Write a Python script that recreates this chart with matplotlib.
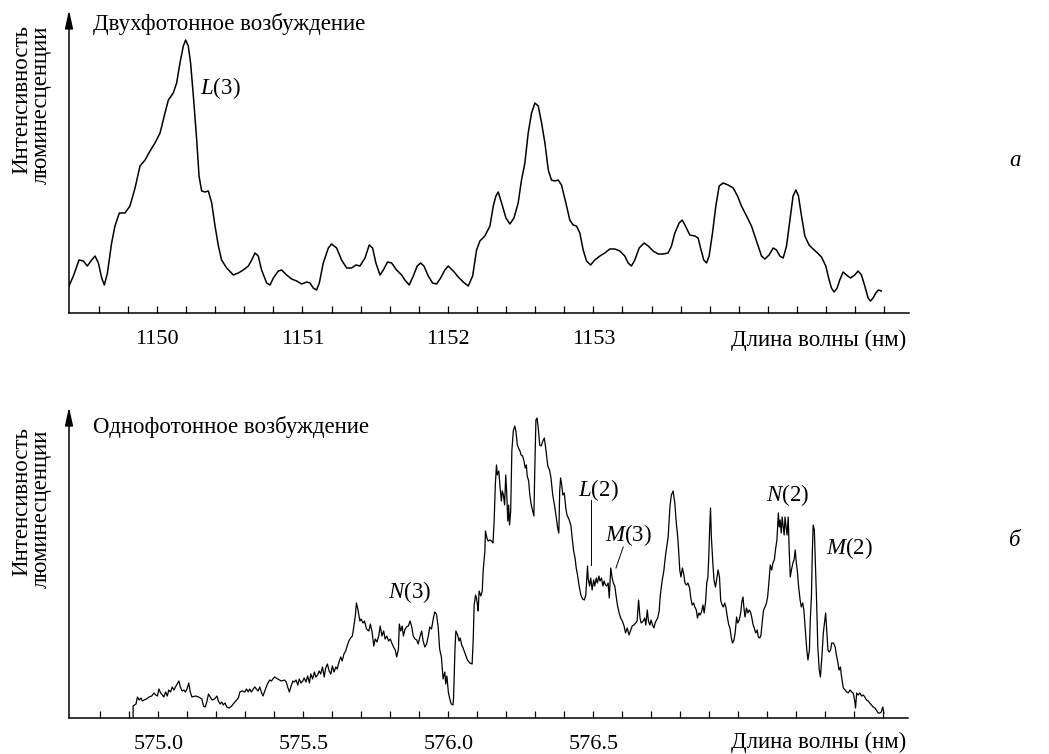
import matplotlib
matplotlib.use('Agg')
import matplotlib.pyplot as plt
import numpy as np

plt.rcParams['font.family'] = ['Liberation Serif', 'DejaVu Serif']
plt.rcParams['mathtext.fontset'] = 'custom'
plt.rcParams['mathtext.rm'] = 'Liberation Serif'
plt.rcParams['mathtext.it'] = 'Liberation Serif:italic'

# --- two-photon excitation spectrum (wavelength, nm / intensity, a.u.)
top_wl = [1149.395, 1149.425, 1149.464, 1149.494, 1149.521, 1149.551, 1149.574, 1149.597, 1149.620, 1149.638,
          1149.659, 1149.688, 1149.711, 1149.741, 1149.780, 1149.814, 1149.849, 1149.883, 1149.918, 1149.952,
          1149.986, 1150.021, 1150.055, 1150.078, 1150.112, 1150.135, 1150.158, 1150.181, 1150.197, 1150.215,
          1150.231, 1150.250, 1150.273, 1150.289, 1150.307, 1150.330, 1150.353, 1150.376, 1150.399, 1150.422,
          1150.444, 1150.479, 1150.525, 1150.559, 1150.593, 1150.628, 1150.651, 1150.674, 1150.696, 1150.719,
          1150.754, 1150.777, 1150.800, 1150.834, 1150.857, 1150.891, 1150.926, 1150.960, 1150.994, 1151.029,
          1151.052, 1151.074, 1151.097, 1151.116, 1151.143, 1151.178, 1151.200, 1151.235, 1151.269, 1151.304,
          1151.338, 1151.368, 1151.395, 1151.430, 1151.459, 1151.482, 1151.505, 1151.533, 1151.556, 1151.585,
          1151.613, 1151.647, 1151.682, 1151.704, 1151.734, 1151.762, 1151.789, 1151.812, 1151.835, 1151.865,
          1151.895, 1151.922, 1151.950, 1151.979, 1152.002, 1152.037, 1152.071, 1152.105, 1152.140, 1152.170,
          1152.197, 1152.220, 1152.254, 1152.289, 1152.312, 1152.330, 1152.346, 1152.369, 1152.399, 1152.426,
          1152.454, 1152.483, 1152.506, 1152.529, 1152.552, 1152.575, 1152.598, 1152.621, 1152.644, 1152.667,
          1152.690, 1152.712, 1152.735, 1152.758, 1152.781, 1152.811, 1152.838, 1152.861, 1152.884, 1152.907,
          1152.930, 1152.953, 1152.981, 1153.010, 1153.045, 1153.079, 1153.113, 1153.148, 1153.182, 1153.216,
          1153.239, 1153.262, 1153.285, 1153.315, 1153.349, 1153.377, 1153.411, 1153.446, 1153.480, 1153.514,
          1153.537, 1153.560, 1153.590, 1153.611, 1153.633, 1153.663, 1153.698, 1153.720, 1153.737, 1153.759,
          1153.778, 1153.796, 1153.819, 1153.842, 1153.865, 1153.892, 1153.927, 1153.961, 1153.991, 1154.018,
          1154.053, 1154.087, 1154.110, 1154.133, 1154.156, 1154.179, 1154.208, 1154.236, 1154.259, 1154.282,
          1154.305, 1154.328, 1154.351, 1154.373, 1154.392, 1154.410, 1154.431, 1154.454, 1154.483, 1154.511,
          1154.541, 1154.568, 1154.598, 1154.621, 1154.637, 1154.655, 1154.676, 1154.694, 1154.717, 1154.740,
          1154.768, 1154.797, 1154.820, 1154.843, 1154.866, 1154.889, 1154.905, 1154.923, 1154.942, 1154.960, 1154.980]
top_int = [27, 37, 53, 52, 47, 53, 57, 50, 35, 28,
           40, 70, 87, 100, 100, 107, 125, 147, 153, 162,
           170, 180, 200, 213, 220, 230, 250, 267, 273, 267,
           250, 217, 173, 137, 122, 121, 122, 110, 87, 67,
           53, 45, 38, 40, 43, 47, 53, 60, 57, 43,
           30, 28, 35, 42, 43, 38, 34, 32, 29, 31,
           30, 25, 23, 30, 50, 65, 69, 65, 53, 45,
           45, 48, 47, 55, 68, 65, 50, 38, 43, 51,
           50, 43, 38, 33, 28, 37, 47, 50, 47, 37,
           30, 29, 35, 43, 47, 42, 36, 31, 27, 37,
           63, 72, 77, 87, 107, 117, 121, 110, 95, 89,
           95, 110, 133, 150, 180, 200, 210, 207, 190, 170,
           143, 133, 132, 133, 128, 110, 93, 88, 87, 80,
           63, 52, 48, 53, 57, 60, 64, 64, 62, 57,
           50, 47, 53, 65, 70, 67, 62, 59, 59, 60,
           67, 80, 90, 93, 87, 78, 77, 75, 65, 53,
           50, 57, 80, 107, 127, 130, 128, 125, 117, 107,
           97, 87, 77, 67, 57, 54, 58, 65, 63, 57,
           55, 67, 93, 117, 123, 117, 97, 77, 68, 64,
           60, 56, 47, 33, 25, 21, 25, 33, 41, 38,
           35, 38, 42, 38, 27, 15, 12, 15, 20, 23, 22]

# --- one-photon excitation spectrum
bot_wl = [574.913, 574.913, 574.923, 574.928, 574.934, 574.940, 574.945, 574.951, 574.959, 574.968,
          574.977, 574.985, 574.991, 574.997, 575.002, 575.008, 575.014, 575.019, 575.025, 575.031,
          575.036, 575.042, 575.048, 575.054, 575.059, 575.065, 575.071, 575.076, 575.082, 575.088,
          575.093, 575.099, 575.105, 575.110, 575.116, 575.128, 575.139, 575.150, 575.156, 575.162,
          575.167, 575.173, 575.179, 575.185, 575.194, 575.202, 575.207, 575.213, 575.219, 575.224,
          575.230, 575.236, 575.244, 575.253, 575.264, 575.276, 575.281, 575.289, 575.298, 575.304,
          575.310, 575.315, 575.321, 575.327, 575.333, 575.338, 575.344, 575.350, 575.355, 575.361,
          575.367, 575.372, 575.378, 575.384, 575.390, 575.395, 575.401, 575.412, 575.424, 575.435,
          575.441, 575.446, 575.452, 575.458, 575.464, 575.469, 575.475, 575.481, 575.486, 575.492,
          575.498, 575.503, 575.509, 575.515, 575.521, 575.526, 575.532, 575.538, 575.543, 575.549,
          575.555, 575.560, 575.566, 575.572, 575.577, 575.583, 575.589, 575.595, 575.600, 575.606,
          575.612, 575.617, 575.623, 575.629, 575.634, 575.640, 575.646, 575.651, 575.657, 575.663,
          575.669, 575.674, 575.680, 575.683, 575.688, 575.695, 575.699, 575.706, 575.711, 575.718,
          575.726, 575.731, 575.737, 575.743, 575.748, 575.754, 575.760, 575.765, 575.771, 575.777,
          575.782, 575.788, 575.794, 575.800, 575.805, 575.811, 575.817, 575.822, 575.828, 575.831,
          575.836, 575.841, 575.845, 575.851, 575.856, 575.862, 575.868, 575.874, 575.879, 575.885,
          575.891, 575.896, 575.902, 575.908, 575.913, 575.919, 575.925, 575.931, 575.936, 575.942,
          575.948, 575.953, 575.959, 575.965, 575.970, 575.976, 575.982, 575.988, 575.991, 575.995,
          576.000, 576.005, 576.010, 576.016, 576.018, 576.023, 576.026, 576.032, 576.037, 576.041,
          576.046, 576.051, 576.057, 576.066, 576.074, 576.082, 576.086, 576.089, 576.094, 576.097,
          576.101, 576.103, 576.106, 576.112, 576.117, 576.120, 576.126, 576.128, 576.133, 576.137,
          576.143, 576.149, 576.154, 576.158, 576.162, 576.166, 576.169, 576.174, 576.178, 576.183,
          576.186, 576.190, 576.194, 576.198, 576.201, 576.205, 576.208, 576.211, 576.215, 576.219,
          576.224, 576.229, 576.233, 576.238, 576.242, 576.247, 576.251, 576.256, 576.261, 576.265,
          576.269, 576.272, 576.277, 576.281, 576.286, 576.291, 576.295, 576.298, 576.302, 576.306,
          576.311, 576.315, 576.320, 576.326, 576.331, 576.337, 576.343, 576.349, 576.354, 576.360,
          576.366, 576.371, 576.377, 576.381, 576.384, 576.387, 576.391, 576.395, 576.400, 576.405,
          576.409, 576.414, 576.418, 576.423, 576.427, 576.432, 576.437, 576.441, 576.446, 576.451,
          576.457, 576.463, 576.469, 576.474, 576.480, 576.482, 576.487, 576.491, 576.496, 576.501,
          576.505, 576.510, 576.514, 576.519, 576.523, 576.528, 576.533, 576.537, 576.542, 576.546,
          576.551, 576.555, 576.560, 576.565, 576.569, 576.574, 576.578, 576.583, 576.589, 576.594,
          576.600, 576.606, 576.611, 576.617, 576.623, 576.629, 576.634, 576.640, 576.646, 576.651,
          576.656, 576.661, 576.665, 576.672, 576.677, 576.681, 576.686, 576.690, 576.695, 576.699,
          576.704, 576.709, 576.713, 576.718, 576.722, 576.727, 576.731, 576.737, 576.743, 576.749,
          576.754, 576.758, 576.764, 576.769, 576.775, 576.781, 576.786, 576.791, 576.794, 576.798,
          576.802, 576.807, 576.811, 576.816, 576.821, 576.826, 576.832, 576.836, 576.841, 576.846,
          576.850, 576.855, 576.859, 576.864, 576.868, 576.873, 576.878, 576.882, 576.887, 576.891,
          576.895, 576.898, 576.901, 576.904, 576.907, 576.912, 576.916, 576.921, 576.925, 576.930,
          576.935, 576.939, 576.944, 576.948, 576.953, 576.957, 576.962, 576.967, 576.971, 576.976,
          576.980, 576.985, 576.989, 576.994, 576.998, 577.003, 577.008, 577.012, 577.016, 577.019,
          577.023, 577.028, 577.033, 577.037, 577.042, 577.046, 577.051, 577.055, 577.060, 577.065,
          577.069, 577.074, 577.078, 577.083, 577.087, 577.092, 577.097, 577.101, 577.106, 577.110,
          577.115, 577.119, 577.124, 577.128, 577.133, 577.138, 577.141, 577.144, 577.148, 577.151,
          577.155, 577.158, 577.161, 577.165, 577.168, 577.172, 577.175, 577.179, 577.183, 577.188,
          577.192, 577.196, 577.199, 577.204, 577.208, 577.213, 577.217, 577.222, 577.226, 577.231,
          577.236, 577.240, 577.245, 577.248, 577.252, 577.255, 577.258, 577.262, 577.265, 577.270,
          577.274, 577.279, 577.283, 577.288, 577.293, 577.297, 577.301, 577.304, 577.309, 577.313,
          577.318, 577.322, 577.328, 577.334, 577.338, 577.343, 577.347, 577.352, 577.356, 577.362,
          577.368, 577.374, 577.379, 577.385, 577.391, 577.396, 577.402, 577.404, 577.408, 577.413,
          577.419, 577.425, 577.431, 577.436, 577.442, 577.448, 577.453, 577.459, 577.465, 577.471,
          577.476, 577.482, 577.488, 577.493, 577.498, 577.502]
bot_int = [0, 12, 14, 21, 18, 20, 17, 18, 19, 21,
           22, 25, 23, 22, 29, 25, 23, 21, 26, 22,
           28, 26, 31, 28, 31, 34, 37, 31, 27, 28,
           26, 29, 35, 26, 21, 22, 21, 19, 12, 11,
           16, 24, 21, 18, 19, 22, 17, 14, 16, 13,
           15, 11, 10, 12, 16, 20, 26, 27, 26, 29,
           26, 29, 26, 29, 31, 29, 27, 31, 26, 22,
           27, 31, 35, 38, 37, 39, 41, 39, 37, 38,
           36, 31, 26, 32, 37, 36, 38, 33, 39, 35,
           37, 40, 36, 42, 35, 44, 39, 46, 41, 43,
           47, 44, 51, 41, 50, 54, 47, 44, 52, 46,
           51, 49, 56, 61, 57, 64, 67, 72, 77, 80,
           82, 91, 104, 115, 109, 97, 99, 95, 97, 89,
           87, 94, 86, 72, 79, 76, 82, 92, 82, 87,
           79, 82, 77, 79, 75, 71, 68, 61, 69, 94,
           87, 92, 82, 89, 91, 92, 97, 91, 82, 79,
           78, 74, 81, 87, 77, 71, 74, 82, 91, 89,
           99, 106, 104, 91, 69, 61, 39, 46, 34, 42,
           26, 19, 14, 13, 20, 70, 87, 83, 77, 80,
           73, 70, 65, 58, 55, 54, 80, 113, 123, 120,
           112, 107, 127, 122, 127, 147, 167, 187, 180, 177,
           178, 177, 175, 197, 233, 253, 243, 247, 232, 217,
           227, 223, 213, 243, 227, 197, 213, 193, 207, 267,
           287, 292, 287, 273, 270, 267, 263, 262, 257, 250,
           253, 242, 237, 223, 213, 207, 202, 247, 298, 300,
           287, 273, 272, 277, 280, 267, 252, 248, 240, 223,
           213, 203, 190, 185, 227, 240, 233, 223, 225, 210,
           203, 200, 197, 192, 180, 167, 160, 150, 142, 132,
           123, 119, 118, 123, 152, 140, 132, 140, 128, 138,
           132, 140, 135, 142, 137, 140, 132, 137, 133, 132,
           135, 120, 150, 140, 135, 132, 123, 113, 105, 100,
           97, 92, 85, 90, 83, 88, 92, 93, 95, 97,
           118, 100, 95, 97, 100, 93, 108, 97, 93, 98,
           93, 90, 95, 98, 100, 107, 123, 137, 147, 163,
           173, 181, 211, 223, 227, 215, 195, 181, 168, 148,
           141, 150, 145, 135, 133, 135, 130, 120, 113, 115,
           111, 108, 100, 105, 103, 106, 113, 105, 116, 135,
           141, 161, 188, 210, 181, 155, 138, 131, 138, 148,
           141, 118, 113, 111, 115, 111, 101, 93, 90, 80,
           75, 78, 85, 101, 95, 98, 105, 116, 121, 111,
           101, 110, 105, 108, 106, 101, 93, 90, 85, 88,
           81, 80, 83, 98, 108, 111, 115, 121, 138, 153,
           148, 155, 158, 168, 178, 205, 191, 198, 185, 201,
           191, 183, 201, 190, 183, 201, 171, 141, 148, 155,
           158, 168, 158, 145, 131, 118, 111, 115, 108, 88,
           68, 58, 68, 98, 121, 165, 193, 188, 161, 115,
           71, 48, 41, 61, 85, 95, 105, 91, 68, 66,
           68, 75, 75, 71, 63, 56, 48, 51, 41, 30,
           28, 26, 25, 28, 26, 25, 16, 10, 25, 23,
           25, 22, 23, 21, 18, 17, 15, 13, 11, 10,
           8, 5, 5, 6, 11, 5]

top_labels = ['1150', '1151', '1152', '1153']
top_label_pos = [1150, 1151, 1152, 1153]
bot_labels = ['575.0', '575.5', '576.0', '576.5']
bot_label_pos = [575.0, 575.5, 576.0, 576.5]

W, H = 1049, 754
FS = 16.5


def fx(x):
    return x / W


def fy(y):
    return 1 - y / H


fig = plt.figure(figsize=(W / 100, H / 100), dpi=100)

ax1 = fig.add_axes([fx(69), fy(313), 840 / W, 303 / H])
ax2 = fig.add_axes([fx(69), fy(718), 839 / W, 311 / H])

ax1.plot(top_wl, top_int, color='k', lw=1.1, solid_joinstyle='round')
ax2.plot(bot_wl, bot_int, color='k', lw=0.9, solid_joinstyle='round')

ax1.set_xlim(1149.395, 1155.17)
ax1.set_ylim(0, 303)
ax2.set_xlim(574.692, 577.585)
ax2.set_ylim(0, 311)

ax1.set_xticks(top_label_pos)
ax1.set_xticklabels(top_labels)
ax1.set_xticks(np.round(np.arange(1149.6, 1155.01, 0.2), 2), minor=True)
ax2.set_xticks(bot_label_pos)
ax2.set_xticklabels(bot_labels)
ax2.set_xticks(np.round(np.arange(574.8, 577.51, 0.1), 2), minor=True)

for ax in (ax1, ax2):
    for s in ('top', 'right', 'left'):
        ax.spines[s].set_visible(False)
    ax.spines['bottom'].set_linewidth(1.1)
    ax.set_yticks([])
    ax.tick_params(axis='x', which='both', direction='in', length=5, width=0.9,
                   labelsize=16, pad=12)
    ax.patch.set_visible(False)
    ax.annotate('', xy=(0, 1), xytext=(0, 0), xycoords='axes fraction',
                arrowprops=dict(arrowstyle='-|>,head_length=0.55,head_width=0.12',
                                lw=1.1, color='k', shrinkA=0, shrinkB=0,
                                mutation_scale=20),
                annotation_clip=False)

# titles and axis captions
fig.text(fx(93), fy(30), 'Двухфотонное возбуждение', fontsize=FS, va='baseline')
fig.text(fx(93), fy(433), 'Однофотонное возбуждение', fontsize=FS, va='baseline')
fig.text(fx(906), fy(346), 'Длина волны (нм)', fontsize=FS, ha='right', va='baseline')
fig.text(fx(906), fy(748), 'Длина волны (нм)', fontsize=FS, ha='right', va='baseline')

for (bx1, cy1, bx2, cy2) in [(27, 100, 47, 105), (27, 501, 47, 509)]:
    fig.text(fx(bx1), fy(cy1), 'Интенсивность', fontsize=FS, rotation=90,
             rotation_mode='anchor', ha='center', va='baseline')
    fig.text(fx(bx2), fy(cy2), 'люминесценции', fontsize=FS, rotation=90,
             rotation_mode='anchor', ha='center', va='baseline')

fig.text(fx(1015), fy(160), 'a', fontsize=FS, style='italic', ha='center', va='center')
fig.text(fx(1015), fy(540), 'б', fontsize=FS, style='italic', ha='center', va='center')

# peak labels
ax1.text(1150.433, 225, r'$L$(3)', fontsize=FS, ha='center', va='center')
ax2.text(575.868, 126, r'$N$(3)', fontsize=FS, ha='center', va='center')
ax2.text(577.168, 223, r'$N$(2)', fontsize=FS, ha='center', va='center')
ax2.text(577.382, 170, r'$M$(2)', fontsize=FS, ha='center', va='center')
ax2.text(576.516, 228, r'$L$(2)', fontsize=FS, ha='center', va='center')
ax2.text(576.622, 183, r'$M$(3)', fontsize=FS, ha='center', va='center')
ax2.plot([576.492, 576.492], [218, 153], color='k', lw=0.7)
ax2.plot([576.603, 576.578], [171, 150], color='k', lw=0.7)

fig.savefig('out.png', dpi=100)
